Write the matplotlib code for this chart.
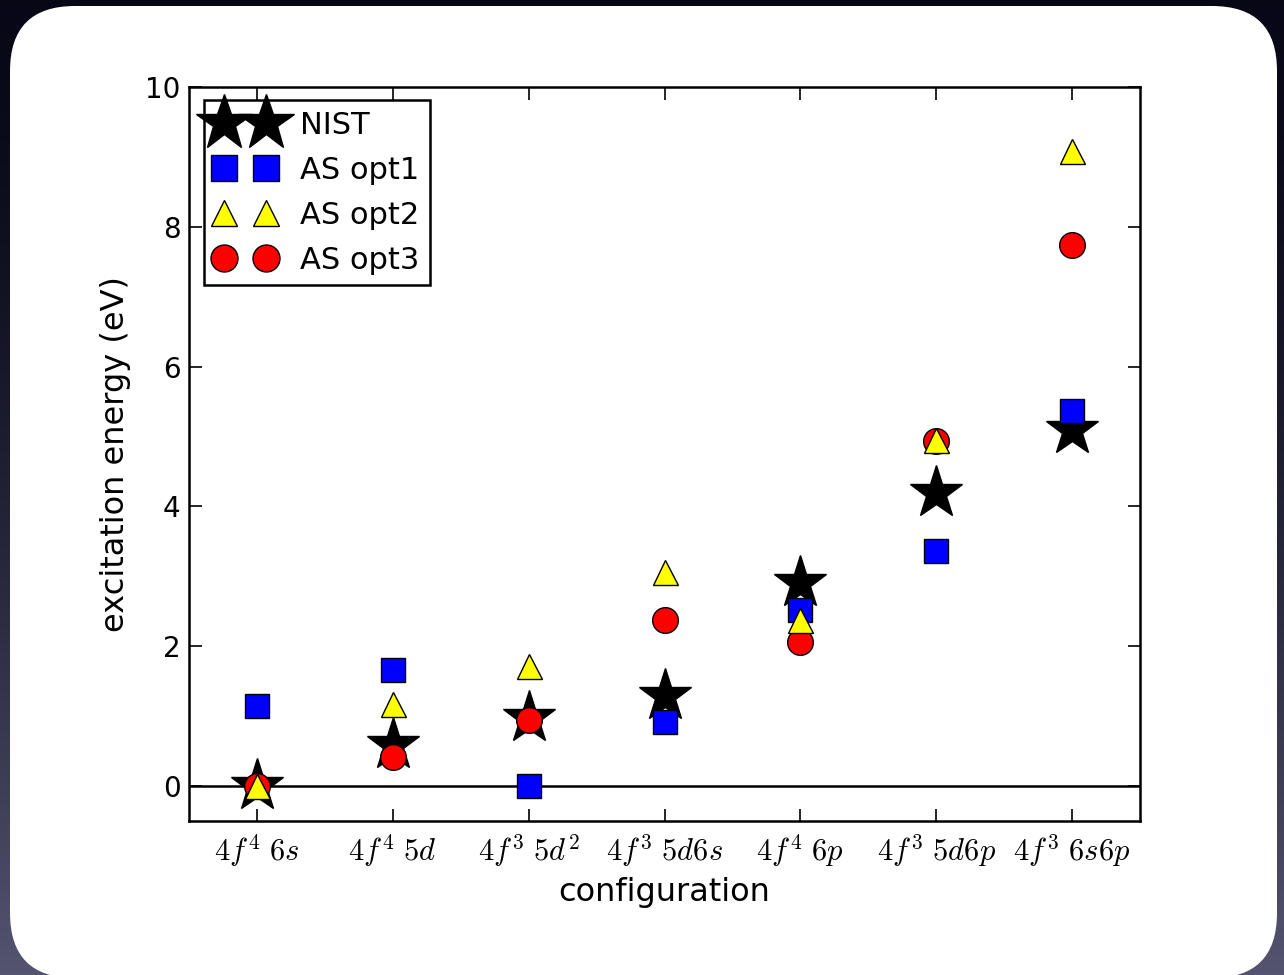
import numpy as np
import matplotlib
matplotlib.use("Agg")
import matplotlib.pyplot as plt
from matplotlib.patches import FancyBboxPatch


# =========================================================
# DATA
# =========================================================

configs = [r"$4f^4\ 6s$", r"$4f^4\ 5d$", r"$4f^3\ 5d^2$", r"$4f^3\ 5d6s$",
           r"$4f^4\ 6p$", r"$4f^3\ 5d6p$", r"$4f^3\ 6s6p$"]

nist = [0.0, 0.59, 0.97, 1.29, 2.90, 4.19, 5.09]
as_opt1 = [1.14, 1.66, 0.0, 0.92, 2.52, 3.36, 5.36]
as_opt2 = [0.0, 1.17, 1.72, 3.06, 2.37, 4.95, 9.08]
as_opt3 = [0.0, 0.41, 0.94, 2.37, 2.06, 4.94, 7.74]

y_ticks = [0, 2, 4, 6, 8, 10]


# =========================================================
# STYLE
# =========================================================

plt.rcParams["mathtext.fontset"] = "cm"
plt.rcParams["font.family"] = "DejaVu Sans"
plt.rcParams["xtick.direction"] = "in"
plt.rcParams["ytick.direction"] = "in"
plt.rcParams["xtick.top"] = True
plt.rcParams["ytick.right"] = True

W, H = 1284, 975
fig = plt.figure(figsize=(W / 100, H / 100), dpi=100)

# dark gradient backdrop + white rounded card
bg = fig.add_axes([0, 0, 1, 1], zorder=-10)
grad = np.linspace(0, 1, 256) ** 1.6
top_col = np.array([0.03, 0.03, 0.09])
bot_col = np.array([0.33, 0.33, 0.44])
img = top_col[None, :] + grad[:, None] * (bot_col - top_col)[None, :]
img = np.repeat(img[:, None, :], 4, axis=1)
bg.imshow(img, aspect="auto", extent=[0, W, H, 0])
r = 65
bg.add_patch(FancyBboxPatch((10 + r, 6 + r), (1277 - 10) - 2 * r, (978 - 6) - 2 * r,
                            boxstyle="round,pad=%d" % r, fc="white", ec="none"))
bg.set_xlim(0, W)
bg.set_ylim(H, 0)
bg.axis("off")

# =========================================================
# PLOT
# =========================================================

ax = fig.add_axes([189 / W, 1 - 821 / H, (1140 - 189) / W, (821 - 87) / H])
x = np.arange(len(configs))

ax.axhline(0, color="black", lw=1.8, zorder=1)

ax.plot(x, nist, ls="none", marker="*", ms=40, mfc="black", mec="black",
        mew=1, label="NIST", zorder=3)
ax.plot(x, as_opt1, ls="none", marker="s", ms=17.5, mfc="blue", mec="black",
        mew=1, label="AS opt1", zorder=4)
ax.plot(x, as_opt2, ls="none", marker="^", ms=18, mfc="yellow", mec="black",
        mew=1, label="AS opt2", zorder=6)
ax.plot(x, as_opt3, ls="none", marker="o", ms=18.5, mfc="red", mec="black",
        mew=1, label="AS opt3", zorder=5)

ax.set_xlim(-0.5, len(configs) - 0.5)
ax.set_ylim(-0.5, 10)
ax.set_xticks(x)
ax.set_xticklabels(configs, fontsize=22)
ax.set_yticks(y_ticks)
ax.tick_params(axis="y", labelsize=20, length=9, width=1.2, pad=6)
ax.tick_params(axis="x", length=9, width=1.2, pad=8)
for s in ax.spines.values():
    s.set_linewidth(1.8)

ax.set_xlabel("configuration", fontsize=23, labelpad=6)
ax.set_ylabel("excitation energy (eV)", fontsize=23, labelpad=10)

leg = ax.legend(loc="upper left", bbox_to_anchor=(0.016, 0.982), borderaxespad=0,
                numpoints=2, fontsize=22, fancybox=False, framealpha=1,
                edgecolor="black", handlelength=1.97, handletextpad=0.8,
                labelspacing=0.52, borderpad=0.35, markerscale=1.05)
leg.get_frame().set_linewidth(1.8)

fig.savefig("out.png", dpi=100)
